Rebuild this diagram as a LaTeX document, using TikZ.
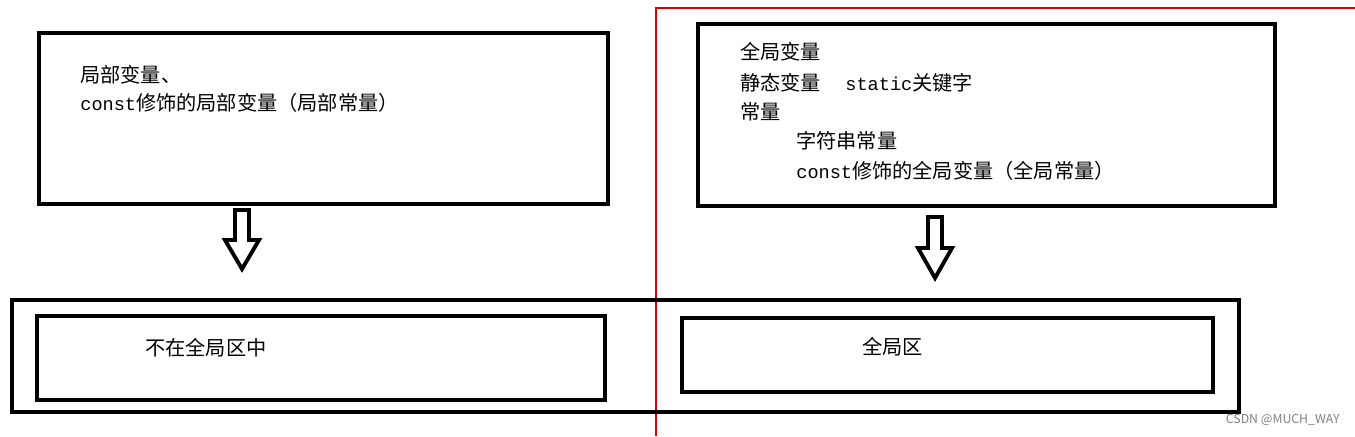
\documentclass[tikz,border=0pt]{standalone}
\usepackage{fontspec}
\setmainfont{Noto Sans CJK SC}
\newfontfamily\lat[Scale=0.92]{Liberation Mono}
\begin{document}
\begin{tikzpicture}[x=0.02cm,y=-0.02cm,
  box/.style={draw=black,line width=2.4pt},
  txt/.style={anchor=west,inner sep=0,font=\fontsize{11.5}{13}\selectfont},
  blk/.style={draw=black,line width=2.2pt,line join=miter}]
\useasboundingbox (0,0) rectangle (1355,436);
\fill[white] (0,0) rectangle (1355,436);
\draw[red!85!black,line width=1.2pt] (656,436) -- (656,8) -- (1355,8);
\node[box,minimum width=569*0.02cm,minimum height=171*0.02cm,anchor=north west] (lt) at (37,31) {};
\node[box,minimum width=577*0.02cm,minimum height=182*0.02cm,anchor=north west] (rt) at (696,22) {};
\node[box,line width=2pt,minimum width=1227*0.02cm,minimum height=112*0.02cm,anchor=north west] (outer) at (10,298) {};
\node[box,minimum width=568*0.02cm,minimum height=84*0.02cm,anchor=north west] (lb) at (35,314) {};
\node[box,minimum width=531*0.02cm,minimum height=74*0.02cm,anchor=north west] (rb) at (680,316) {};
\node[txt] (l1) at (80,75) {局部变量、};
\node[txt] (l2) at (80,103) {{\lat const}修饰的局部变量（局部常量）};
\node[txt] (r1) at (740,52) {全局变量};
\node[txt] (r2) at (740,83) {静态变量\hspace{1.2em}{\lat static}关键字};
\node[txt] (r3) at (740,112) {常量};
\node[txt] (r4) at (796,141) {字符串常量};
\node[txt] (r5) at (796,171) {{\lat const}修饰的全局变量（全局常量）};
\node[txt] (lbt) at (145,348) {不在全局区中};
\node[txt] (rbt) at (862,347) {全局区};
\node[anchor=east,inner sep=0,text=gray,font=\fontsize{7}{8}\selectfont] (wm) at (1340,420) {CSDN @MUCH\_WAY};
\draw[blk] (235,210) -- (249,210) -- (249,240) -- (259,240) -- (242,269) -- (225,240) -- (235,240) -- cycle;
\draw[blk] (928,217) -- (942,217) -- (942,248) -- (952,248) -- (935,278) -- (918,248) -- (928,248) -- cycle;
\end{tikzpicture}
\end{document}
